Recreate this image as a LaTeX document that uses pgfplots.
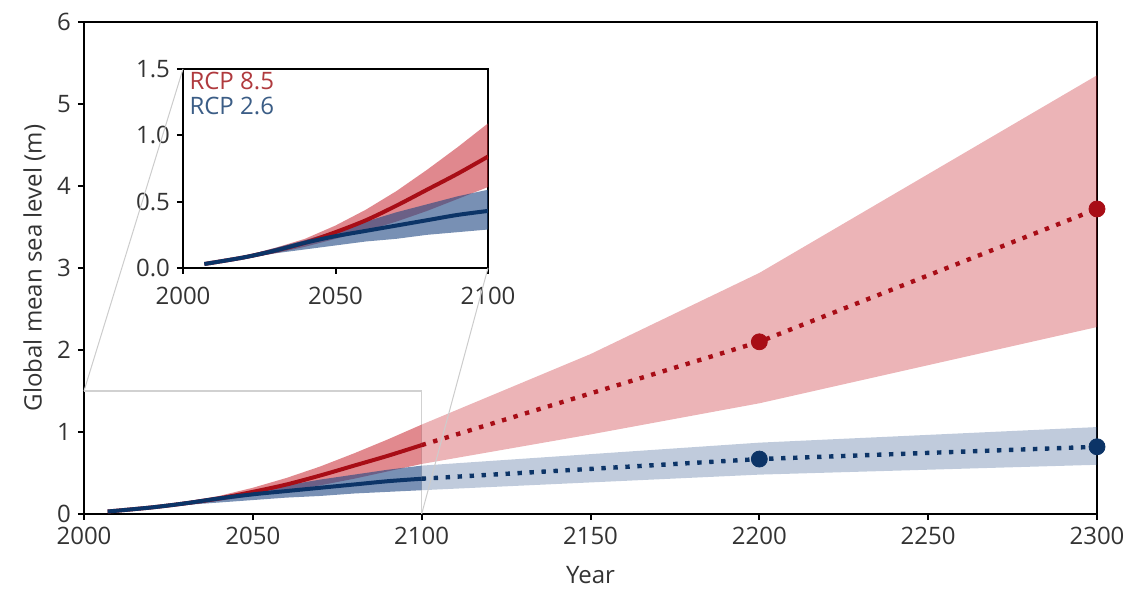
\documentclass[border=0pt]{standalone}
\usepackage{fontspec}
\setmainfont{Open Sans}
\usepackage{pgfplots}
\usepackage{pgfplotstable}
\pgfplotsset{compat=1.18}

\definecolor{txt}{HTML}{333333}
\definecolor{rline}{HTML}{A80D16}
\definecolor{bline}{HTML}{0C3467}
\definecolor{rbase}{RGB}{200,40,50}
\definecolor{bbase}{RGB}{30,70,130}
\definecolor{rlab}{HTML}{B03A3E}
\definecolor{blab}{HTML}{3B5D86}

% central estimates
\pgfplotstableread{
year rm bm
2007 0.03 0.03
2020 0.08 0.08
2030 0.13 0.13
2040 0.19 0.19
2050 0.27 0.24
2060 0.36 0.28
2070 0.47 0.32
2080 0.59 0.36
2090 0.71 0.40
2100 0.84 0.43
}\early

\pgfplotstableread{
year rm bm
2100 0.84 0.43
2200 2.10 0.67
2300 3.72 0.82
}\late

% likely ranges: upper edge forward, lower edge back
\pgfplotstableread{
year r
2007 0.03
2020 0.09
2030 0.15
2040 0.22
2050 0.32
2060 0.44
2070 0.58
2080 0.74
2090 0.91
2100 1.09
2100 0.61
2090 0.52
2080 0.43
2070 0.35
2060 0.28
2050 0.22
2040 0.16
2030 0.11
2020 0.07
2007 0.03
}\redband

\pgfplotstableread{
year b
2007 0.03
2020 0.09
2030 0.15
2040 0.21
2050 0.28
2060 0.35
2070 0.42
2080 0.48
2090 0.54
2100 0.59
2100 0.29
2090 0.27
2080 0.25
2070 0.22
2060 0.20
2050 0.17
2040 0.14
2030 0.11
2020 0.07
2007 0.03
}\blueband

\pgfplotstableread{
year r
2100 1.09
2150 1.95
2200 2.94
2300 5.35
2300 2.28
2200 1.35
2150 0.97
2100 0.61
}\redlate

\pgfplotstableread{
year b
2100 0.59
2200 0.87
2300 1.06
2300 0.60
2200 0.48
2100 0.29
}\bluelate

\pgfplotsset{
 /pgf/number format/1000 sep={},
 every axis/.append style={
  scale only axis, tick align=outside, xtick pos=bottom, ytick pos=left,
  major tick length=3pt,
  axis line style={line width=1pt,black}, tick style={line width=1pt,black},
  /pgf/number format/assume math mode=true,
  ticklabel style={font=\fontsize{12}{14}\selectfont, text=txt},
  label style={font=\fontsize{12}{14}\selectfont, text=txt},
 },
}

\begin{document}
\begin{tikzpicture}
\path[use as bounding box] (-42pt,-39pt) rectangle (530pt,257pt);
\begin{axis}[name=main, at={(0,0)}, anchor=south west,
 width=506.5pt, height=246pt,
 xmin=2000, xmax=2300, ymin=0, ymax=6,
 xtick={2000,2050,...,2300}, ytick={0,1,...,6},
 xlabel={Year}, ylabel={Global mean sea level (m)},
 xlabel style={yshift=-4pt}, ylabel style={yshift=-1pt},
 clip=false]
\addplot[draw=black!18, line width=0.6pt] coordinates {(2000,1.5) (2100,1.5) (2100,0)};
\addplot[fill=rbase, fill opacity=0.35, draw=none] table[x=year,y=r]{\redlate} -- cycle;
\addplot[fill=bbase, fill opacity=0.28, draw=none] table[x=year,y=b]{\bluelate} -- cycle;
\addplot[fill=rbase, fill opacity=0.55, draw=none] table[x=year,y=r]{\redband} -- cycle;
\addplot[fill=bbase, fill opacity=0.6, draw=none] table[x=year,y=b]{\blueband} -- cycle;
\addplot[rline, line width=2pt, smooth] table[x=year,y=rm]{\early};
\addplot[bline, line width=2pt, smooth] table[x=year,y=bm]{\early};
\addplot[rline, line width=2.2pt, dash pattern=on 2.2pt off 3.8pt] table[x=year,y=rm]{\late};
\addplot[bline, line width=2.2pt, dash pattern=on 2.2pt off 3.8pt] table[x=year,y=bm]{\late};
\addplot[only marks, mark=*, mark size=4pt, color=rline] coordinates {(2200,2.10) (2300,3.72)};
\addplot[only marks, mark=*, mark size=4pt, color=bline] coordinates {(2200,0.67) (2300,0.82)};
\coordinate (zA) at (axis cs:2000,1.5);
\coordinate (zB) at (axis cs:2100,0);
\end{axis}

\begin{axis}[name=inset, at={(49.5pt,123pt)}, anchor=south west,
 width=152.5pt, height=99.5pt,
 xmin=2000, xmax=2100, ymin=0, ymax=1.5,
 xtick={2000,2050,2100}, ytick={0,0.5,1,1.5},
 xticklabel style={yshift=-3pt},
 yticklabel style={/pgf/number format/.cd, fixed, fixed zerofill, precision=1},
 axis background/.style={fill=white}]
\addplot[fill=rbase, fill opacity=0.55, draw=none] table[x=year,y=r]{\redband} -- cycle;
\addplot[fill=bbase, fill opacity=0.6, draw=none] table[x=year,y=b]{\blueband} -- cycle;
\addplot[rline, line width=2pt, smooth] table[x=year,y=rm]{\early};
\addplot[bline, line width=2pt, smooth] table[x=year,y=bm]{\early};
\node[anchor=north west, inner sep=0pt, text=rlab, font=\fontsize{12}{14}\selectfont] at (rel axis cs:0.02,0.985) {RCP 8.5};
\node[anchor=north west, inner sep=0pt, text=blab, font=\fontsize{12}{14}\selectfont] at (rel axis cs:0.02,0.86) {RCP 2.6};
\end{axis}

\draw[black!20, line width=0.5pt] (zA) -- (inset.north west);
\draw[black!20, line width=0.5pt] (zB) -- (inset.south east);
\end{tikzpicture}
\end{document}
